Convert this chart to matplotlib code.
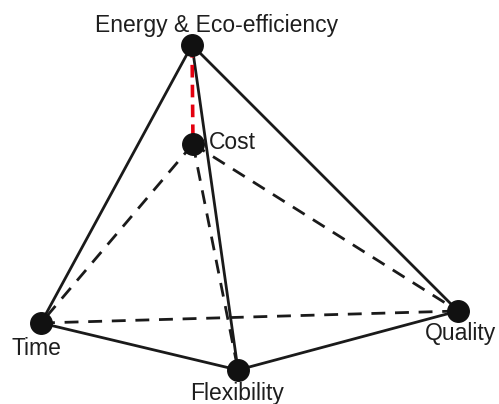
import matplotlib.pyplot as plt

plt.rcParams['font.family'] = ['Liberation Sans', 'DejaVu Sans']

# vertices of the diagram (picture coordinates)
names = ["Energy & Eco-efficiency", "Cost", "Time", "Flexibility", "Quality"]
xs = [192, 193, 41, 238, 458]
ys = [45, 144, 323, 370, 311]

solid_edges = [(0, 2), (0, 4), (0, 3), (2, 3), (3, 4)]
dashed_edges = [(1, 2), (1, 4), (1, 3), (2, 4)]
red_edges = [(0, 1)]

fig = plt.figure(figsize=(4.99, 4.04), dpi=100)
ax = fig.add_axes([0, 0, 1, 1])
ax.set_xlim(0, 499)
ax.set_ylim(404, 0)
ax.axis('off')

for a, b in solid_edges:
    ax.plot([xs[a], xs[b]], [ys[a], ys[b]], color='#1a1a1a', lw=2.0, solid_capstyle='butt')
for a, b in dashed_edges:
    ax.plot([xs[a], xs[b]], [ys[a], ys[b]], color='#1a1a1a', lw=2.0, dashes=(5, 3.5))
for a, b in red_edges:
    ax.plot([xs[a], xs[b]], [ys[a], ys[b]], color='#e3000f', lw=2.6, dashes=(3.5, 2))

ax.plot(xs, ys, 'o', color='#111111', ms=15.5, zorder=5)

fs = 16.5
tc = '#1e1e1e'
ax.text(217, 32, names[0], ha='center', va='baseline', fontsize=fs, color=tc)
ax.text(209, 149, names[1], ha='left', va='baseline', fontsize=fs, color=tc)
ax.text(36, 355, names[2], ha='center', va='baseline', fontsize=fs, color=tc)
ax.text(237, 400, names[3], ha='center', va='baseline', fontsize=fs, color=tc)
ax.text(425, 340, names[4], ha='left', va='baseline', fontsize=fs, color=tc)

fig.savefig('out.png', dpi=100)
